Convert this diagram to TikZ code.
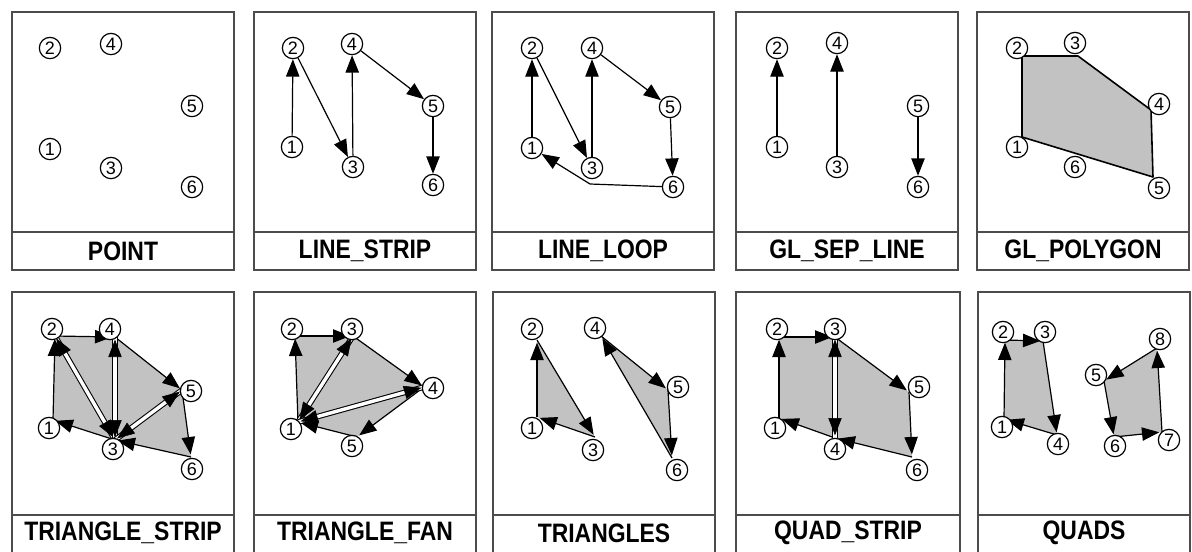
\documentclass[tikz,border=0pt]{standalone}
\usepackage{fontspec}
\setmainfont{Liberation Sans}
\newfontfamily\labfont[FakeStretch=0.86]{Liberation Sans}
\usetikzlibrary{arrows.meta,decorations.markings}
\tikzset{
  x=0.75pt, y=-0.75pt,
  arrhd/.tip={Triangle[length=13pt,width=10pt]},
  frame/.style={draw=black!70, line width=1.1pt},
  lab/.style={inner sep=0pt, font=\labfont\bfseries\fontsize{20}{20}\selectfont},
  num/.style={circle, draw, fill=white, line width=0.9pt, inner sep=0pt, minimum size=16pt, font=\fontsize{13.5}{13.5}\selectfont},
  edge/.style={draw, line width=0.9pt, -arrhd},
  vedge/.style={draw, line width=0.9pt, -arrhd, shorten >=2pt},
  dline/.style={draw, line width=0.8pt, double=white, double distance=2.6pt},
  bothtips/.style={decorate, decoration={markings,
      mark=at position -2pt with {\arrow{arrhd}},
      mark=at position 2pt with {\arrowreversed{arrhd}}}},
  tint/.style={fill=black!24},
  outline/.style={draw, line width=1.2pt, line join=round},
}
\begin{document}
\begin{tikzpicture}
\useasboundingbox (0,0) rectangle (1192,551);
\fill[white] (0,0) rectangle (1192,551);

% ---------- Panel 1: POINT ----------
\begin{scope}[shift={(12,12)}]
  \draw[frame] (0,0) rectangle (222,258);
  \draw[frame] (0,220) -- (222,220);
  \node[lab] (t1) at (111,239) {POINT};
  \node[num] (p1n1) at (38,137) {1};
  \node[num] (p1n2) at (38,36) {2};
  \node[num] (p1n3) at (99,156) {3};
  \node[num] (p1n4) at (99,32) {4};
  \node[num] (p1n5) at (180,94) {5};
  \node[num] (p1n6) at (180,175) {6};
\end{scope}

% ---------- Panel 2: LINE_STRIP ----------
\begin{scope}[shift={(254,12)}]
  \draw[frame] (0,0) rectangle (222,258);
  \draw[frame] (0,220) -- (222,220);
  \node[lab] (t2) at (111,239) {LINE\_STRIP};
  \node[num] (p2n1) at (38,135) {1};
  \node[num] (p2n2) at (39,36) {2};
  \node[num] (p2n3) at (99,155) {3};
  \node[num] (p2n4) at (98,32) {4};
  \node[num] (p2n5) at (179,94) {5};
  \node[num] (p2n6) at (179,173) {6};
  \draw[edge] (p2n1) -- (p2n2);
  \draw[edge] (p2n2) -- (p2n3);
  \draw[edge] (p2n3) -- (p2n4);
  \draw[edge] (p2n4) -- (p2n5);
  \draw[edge] (p2n5) -- (p2n6);
\end{scope}

% ---------- Panel 3: LINE_LOOP ----------
\begin{scope}[shift={(492,12)}]
  \draw[frame] (0,0) rectangle (222,258);
  \draw[frame] (0,220) -- (222,220);
  \node[lab] (t3) at (111,239) {LINE\_LOOP};
  \node[num] (p3n1) at (40,136) {1};
  \node[num] (p3n2) at (40,36) {2};
  \node[num] (p3n3) at (100,156) {3};
  \node[num] (p3n4) at (100,36) {4};
  \node[num] (p3n5) at (178,95) {5};
  \node[num] (p3n6) at (181,175) {6};
  \coordinate (p3b) at (98,172);
  \draw[edge] (p3n1) -- (p3n2);
  \draw[edge] (p3n2) -- (p3n3);
  \draw[edge] (p3n3) -- (p3n4);
  \draw[edge] (p3n4) -- (p3n5);
  \draw[edge] (p3n5) -- (p3n6);
  \draw[edge] (p3n6) -- (p3b) -- (p3n1);
\end{scope}

% ---------- Panel 4: GL_SEP_LINE ----------
\begin{scope}[shift={(736,12)}]
  \draw[frame] (0,0) rectangle (222,258);
  \draw[frame] (0,220) -- (222,220);
  \node[lab] (t4) at (111,239) {GL\_SEP\_LINE};
  \node[num] (p4n1) at (41,135) {1};
  \node[num] (p4n2) at (41,36) {2};
  \node[num] (p4n3) at (101,155) {3};
  \node[num] (p4n4) at (101,31) {4};
  \node[num] (p4n5) at (182,94) {5};
  \node[num] (p4n6) at (182,175) {6};
  \draw[edge] (p4n1) -- (p4n2);
  \draw[edge] (p4n3) -- (p4n4);
  \draw[edge] (p4n5) -- (p4n6);
\end{scope}

% ---------- Panel 5: GL_POLYGON ----------
\begin{scope}[shift={(977,12)}]
  \draw[frame] (0,0) rectangle (212,258);
  \draw[frame] (0,220) -- (212,220);
  \node[lab] (t5) at (106,239) {GL\_POLYGON};
  \coordinate (p5v1) at (45,125);
  \coordinate (p5v2) at (45,44);
  \coordinate (p5v3) at (101,44);
  \coordinate (p5v4) at (174,98);
  \coordinate (p5v5) at (176,165);
  \path[tint] (p5v1) -- (p5v2) -- (p5v3) -- (p5v4) -- (p5v5) -- cycle;
  \draw[outline] (p5v1) -- (p5v2) -- (p5v3) -- (p5v4) -- (p5v5) -- cycle;
  \node[num] (p5n1) at (40,135) {1};
  \node[num] (p5n2) at (40,36) {2};
  \node[num] (p5n3) at (98,31) {3};
  \node[num] (p5n4) at (182,92) {4};
  \node[num] (p5n5) at (182,176) {5};
  \node[num] (p5n6) at (98,155) {6};
\end{scope}

% ---------- Panel 6: TRIANGLE_STRIP ----------
\begin{scope}[shift={(12,292)}]
  \draw[frame] (0,262) -- (0,0) -- (222,0) -- (222,262);
  \draw[frame] (0,223) -- (222,223);
  \node[lab] (t6) at (111,241) {TRIANGLE\_STRIP};
  \coordinate (p6v1) at (41,128);
  \coordinate (p6v2) at (43,44);
  \coordinate (p6v3) at (103,148);
  \coordinate (p6v4) at (103,45);
  \coordinate (p6v5) at (170,98);
  \coordinate (p6v6) at (179,165);
  \path[tint] (p6v1) -- (p6v2) -- (p6v4) -- (p6v5) -- (p6v6) -- (p6v3) -- cycle;
  \draw[vedge] (p6v1) -- (p6v2);
  \draw[vedge] (p6v2) -- (p6v4);
  \draw[vedge] (p6v4) -- (p6v5);
  \draw[vedge] (p6v5) -- (p6v6);
  \draw[vedge] (p6v6) -- (p6v3);
  \draw[vedge] (p6v3) -- (p6v1);
  \draw[dline] (p6v2) -- (p6v3);
  \path[bothtips] (p6v2) -- (p6v3);
  \draw[dline] (p6v4) -- (p6v3);
  \path[bothtips] (p6v4) -- (p6v3);
  \draw[dline] (p6v5) -- (p6v3);
  \path[bothtips] (p6v5) -- (p6v3);
  \node[num] (p6n1) at (37,136) {1};
  \node[num] (p6n2) at (40,37) {2};
  \node[num] (p6n3) at (101,157) {3};
  \node[num] (p6n4) at (98,37) {4};
  \node[num] (p6n5) at (179,99) {5};
  \node[num] (p6n6) at (180,177) {6};
\end{scope}

% ---------- Panel 7: TRIANGLE_FAN ----------
\begin{scope}[shift={(254,292)}]
  \draw[frame] (0,262) -- (0,0) -- (222,0) -- (222,262);
  \draw[frame] (0,223) -- (222,223);
  \node[lab] (t7) at (111,241) {TRIANGLE\_FAN};
  \coordinate (p7v1) at (44,130);
  \coordinate (p7v2) at (41,44);
  \coordinate (p7v3) at (99,44);
  \coordinate (p7v4) at (170,95);
  \coordinate (p7v5) at (103,145);
  \path[tint] (p7v1) -- (p7v2) -- (p7v3) -- (p7v4) -- (p7v5) -- cycle;
  \draw[vedge] (p7v1) -- (p7v2);
  \draw[vedge] (p7v2) -- (p7v3);
  \draw[vedge] (p7v3) -- (p7v4);
  \draw[vedge] (p7v4) -- (p7v5);
  \draw[vedge] (p7v5) -- (p7v1);
  \draw[dline] (p7v1) -- (p7v3);
  \path[bothtips] (p7v1) -- (p7v3);
  \draw[dline] (p7v1) -- (p7v4);
  \path[bothtips] (p7v1) -- (p7v4);
  \node[num] (p7n1) at (37,137) {1};
  \node[num] (p7n2) at (38,37) {2};
  \node[num] (p7n3) at (98,37) {3};
  \node[num] (p7n4) at (179,96) {4};
  \node[num] (p7n5) at (98,154) {5};
\end{scope}

% ---------- Panel 8: TRIANGLES ----------
\begin{scope}[shift={(493,292)}]
  \draw[frame] (0,262) -- (0,0) -- (222,0) -- (222,262);
  \draw[frame] (0,223) -- (222,223);
  \node[lab] (t8) at (111,241) {TRIANGLES};
  \coordinate (p8v1) at (44,125);
  \coordinate (p8v2) at (44,48);
  \coordinate (p8v3) at (102,145);
  \coordinate (p8v4) at (108,44);
  \coordinate (p8v5) at (175,98);
  \coordinate (p8v6) at (179,166);
  \path[tint] (p8v1) -- (p8v2) -- (p8v3) -- cycle;
  \path[tint] (p8v4) -- (p8v5) -- (p8v6) -- cycle;
  \draw[vedge] (p8v1) -- (p8v2);
  \draw[vedge] (p8v2) -- (p8v3);
  \draw[vedge] (p8v3) -- (p8v1);
  \draw[vedge] (p8v4) -- (p8v5);
  \draw[vedge] (p8v5) -- (p8v6);
  \draw[vedge] (p8v6) -- (p8v4);
  \node[num] (p8n1) at (39,136) {1};
  \node[num] (p8n2) at (39,37) {2};
  \node[num] (p8n3) at (100,158) {3};
  \node[num] (p8n4) at (102,36) {4};
  \node[num] (p8n5) at (185,95) {5};
  \node[num] (p8n6) at (184,178) {6};
\end{scope}

% ---------- Panel 9: QUAD_STRIP ----------
\begin{scope}[shift={(736,292)}]
  \draw[frame] (0,262) -- (0,0) -- (224,0) -- (224,262);
  \draw[frame] (0,223) -- (224,223);
  \node[lab] (t9) at (112,241) {QUAD\_STRIP};
  \coordinate (p9v1) at (43,126);
  \coordinate (p9v2) at (43,45);
  \coordinate (p9v3) at (99,45);
  \coordinate (p9v4) at (99,146);
  \coordinate (p9v5) at (173,100);
  \coordinate (p9v6) at (176,165);
  \path[tint] (p9v1) -- (p9v2) -- (p9v3) -- (p9v5) -- (p9v6) -- (p9v4) -- cycle;
  \draw[vedge] (p9v1) -- (p9v2);
  \draw[vedge] (p9v2) -- (p9v3);
  \draw[vedge] (p9v3) -- (p9v5);
  \draw[vedge] (p9v5) -- (p9v6);
  \draw[vedge] (p9v6) -- (p9v4);
  \draw[vedge] (p9v4) -- (p9v1);
  \draw[dline] (p9v3) -- (p9v4);
  \path[bothtips] (p9v3) -- (p9v4);
  \node[num] (p9n1) at (39,136) {1};
  \node[num] (p9n2) at (41,37) {2};
  \node[num] (p9n3) at (99,37) {3};
  \node[num] (p9n4) at (99,157) {4};
  \node[num] (p9n5) at (183,95) {5};
  \node[num] (p9n6) at (181,178) {6};
\end{scope}

% ---------- Panel 10: QUADS ----------
\begin{scope}[shift={(978,292)}]
  \draw[frame] (0,262) -- (0,0) -- (212,0) -- (212,262);
  \draw[frame] (0,223) -- (212,223);
  \node[lab] (t10) at (106,241) {QUADS};
  \coordinate (p10v1) at (26,127);
  \coordinate (p10v2) at (27,48);
  \coordinate (p10v3) at (65,49);
  \coordinate (p10v4) at (79,143);
  \coordinate (p10v5) at (126,89);
  \coordinate (p10v6) at (136,145);
  \coordinate (p10v7) at (184,140);
  \coordinate (p10v8) at (179,56);
  \path[tint] (p10v1) -- (p10v2) -- (p10v3) -- (p10v4) -- cycle;
  \path[tint] (p10v5) -- (p10v6) -- (p10v7) -- (p10v8) -- cycle;
  \draw[vedge] (p10v1) -- (p10v2);
  \draw[vedge] (p10v2) -- (p10v3);
  \draw[vedge] (p10v3) -- (p10v4);
  \draw[vedge] (p10v4) -- (p10v1);
  \draw[vedge] (p10v5) -- (p10v6);
  \draw[vedge] (p10v6) -- (p10v7);
  \draw[vedge] (p10v7) -- (p10v8);
  \draw[vedge] (p10v8) -- (p10v5);
  \node[num] (p10n1) at (24,135) {1};
  \node[num] (p10n2) at (25,40) {2};
  \node[num] (p10n3) at (67,40) {3};
  \node[num] (p10n4) at (80,152) {4};
  \node[num] (p10n5) at (118,83) {5};
  \node[num] (p10n6) at (137,154) {6};
  \node[num] (p10n7) at (191,148) {7};
  \node[num] (p10n8) at (182,47) {8};
\end{scope}
\end{tikzpicture}
\end{document}
